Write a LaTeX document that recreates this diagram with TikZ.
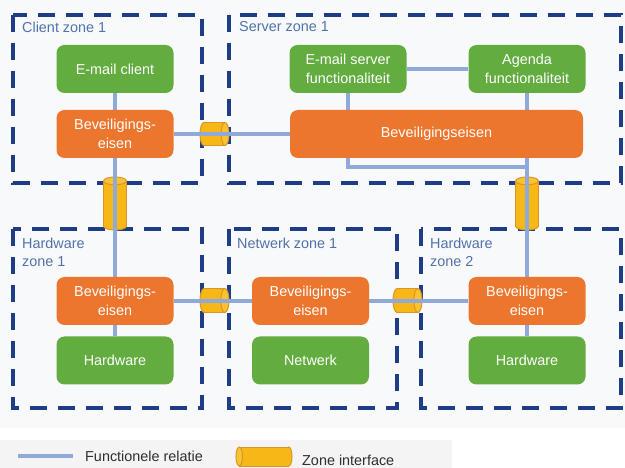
\documentclass[tikz,border=0pt]{standalone}
\usepackage{fontspec}
\setmainfont{Liberation Sans}
\definecolor{zoneblue}{HTML}{1F3D87}
\definecolor{labelblue}{HTML}{5272AA}
\definecolor{linkblue}{HTML}{8FAADA}
\definecolor{boxgreen}{HTML}{62AC40}
\definecolor{boxorange}{HTML}{EC762E}
\definecolor{cylfill}{HTML}{F7B716}
\definecolor{cylcap}{HTML}{F9C230}
\definecolor{cylline}{HTML}{D8962A}
\definecolor{bgmain}{HTML}{F8F9FB}
\definecolor{bglegend}{HTML}{F4F4F4}
\definecolor{legendtext}{HTML}{2E2E2E}
\pgfdeclarelayer{back}
\pgfdeclarelayer{mid}
\pgfsetlayers{back,mid,main}
\newcommand\cylV[4]{%
 \pgfmathsetmacro\cyA{#1-#3/2}\pgfmathsetmacro\cyB{#1+#3/2}%
 \pgfmathsetmacro\cyT{#2-#4/2+#3*0.17}\pgfmathsetmacro\cyD{#2+#4/2-#3*0.17}%
 \pgfmathsetmacro\cyRx{#3/2}\pgfmathsetmacro\cyRy{#3*0.17}%
 \draw[cylout,fill=cylfill] (#1,\cyD) ellipse [x radius=\cyRx, y radius=\cyRy];
 \fill[cylfill] (\cyA,\cyT) rectangle (\cyB,\cyD);
 \draw[cylout] (\cyA,\cyT) -- (\cyA,\cyD) (\cyB,\cyT) -- (\cyB,\cyD);
 \draw[cylout,fill=cylcap] (#1,\cyT) ellipse [x radius=\cyRx, y radius=\cyRy];
}
% horizontal cylinder, visible cap at end #5 (1 = right, -1 = left)
\newcommand\cylH[5]{%
 \pgfmathsetmacro\cyRy{#4/2}\pgfmathsetmacro\cyRx{#4*0.17}%
 \pgfmathsetmacro\cyT{#2-#4/2}\pgfmathsetmacro\cyD{#2+#4/2}%
 \pgfmathsetmacro\cyF{#1-#5*(#3/2-#4*0.17)}\pgfmathsetmacro\cyN{#1+#5*(#3/2-#4*0.17)}%
 \draw[cylout,fill=cylfill] (\cyF,#2) ellipse [x radius=\cyRx, y radius=\cyRy];
 \fill[cylfill] (\cyF,\cyT) rectangle (\cyN,\cyD);
 \draw[cylout] (\cyF,\cyT) -- (\cyN,\cyT) (\cyF,\cyD) -- (\cyN,\cyD);
 \draw[cylout,fill=cylcap] (\cyN,#2) ellipse [x radius=\cyRx, y radius=\cyRy];
}
\tikzset{
 zone/.style={draw=zoneblue, line width=4.2pt, dash pattern=on 17pt off 11pt},
 zonelabel/.style={text=labelblue, font=\fontsize{14.4}{18}\selectfont, align=left, inner sep=0pt},
 box/.style={rounded corners=8pt, minimum width=117pt, minimum height=48pt, text=white,
   font=\fontsize{14.4}{18.5}\selectfont, align=center, inner sep=0pt},
 gbox/.style={box, fill=boxgreen},
 obox/.style={box, fill=boxorange},
 link/.style={draw=linkblue, line width=3.2pt},
 cylout/.style={draw=cylline, line width=1pt},
 legtext/.style={text=legendtext, font=\fontsize{14.4}{18}\selectfont, inner sep=0pt, anchor=west}
}
\begin{document}
\begin{tikzpicture}[x=1pt,y=-1pt]
\useasboundingbox (0,0) rectangle (625,468);

% boxes
\path
 (115,69)  node[gbox] (ec) {E-mail client}
 (115,134) node[obox] (cb) {Beveiligings-\\eisen}
 (348,69)  node[gbox] (es) {E-mail server\\functionaliteit}
 (527,69)  node[gbox] (ag) {Agenda\\functionaliteit}
 (436.5,134) node[obox, minimum width=293pt] (sb) {Beveiligingseisen}
 (115,301) node[obox] (h1b) {Beveiligings-\\eisen}
 (115,360.5) node[gbox] (h1h) {Hardware}
 (310.5,301) node[obox] (nb) {Beveiligings-\\eisen}
 (310.5,360.5) node[gbox] (nn) {Netwerk}
 (527,301) node[obox] (h2b) {Beveiligings-\\eisen}
 (527,360.5) node[gbox] (h2h) {Hardware};

\begin{pgfonlayer}{back}
\fill[bgmain] (0,0) rectangle (625,428);
\fill[white] (0,428) rectangle (625,468);
\fill[bglegend] (0,440) rectangle (452,468);

% zones
\draw[zone] (13,15) rectangle (202,183);
\draw[zone] (229,15) rectangle (621,183);
\draw[zone] (13,229) rectangle (202,408);
\draw[zone] (229,229) rectangle (397,408);
\draw[zone] (421,229) rectangle (621,408);

% zone interfaces
\cylV{115}{203.5}{23}{53}
\cylV{527}{203.5}{23}{53}
\cylH{214.5}{134}{29}{23}{1}
\cylH{214.5}{300.5}{29}{24}{1}
\cylH{407.5}{300.5}{29}{24}{1}
\end{pgfonlayer}

\node[zonelabel, anchor=west] (lz1) at (22,27) {Client zone 1};
\node[zonelabel, anchor=west] (lz2) at (239,27) {Server zone 1};
\node[zonelabel, anchor=west] (lz3) at (22,252) {Hardware\\zone 1};
\node[zonelabel, anchor=west] (lz4) at (237,243) {Netwerk zone 1};
\node[zonelabel, anchor=west] (lz5) at (430,252) {Hardware\\zone 2};

% connectors
\coordinate (br1) at (es.south |- 0,167);
\coordinate (br2) at (ag.south |- 0,167);
\begin{pgfonlayer}{mid}
\draw[link] (ec) -- (cb);
\draw[link] (cb) -- (sb);
\draw[link] (es) -- (ag);
\draw[link] (es.south) -- (br1) -- (br2);
\draw[link] (ag.south) -- (h2b.north);
\draw[link] (cb.south) -- (h1b.north);
\draw[link] (h1b) -- (nb);
\draw[link] (nb) -- (h2b);
\draw[link] (h1b) -- (h1h);
\draw[link] (h2b) -- (h2h);
\end{pgfonlayer}

% legend
\coordinate (lgA) at (18,456);
\coordinate (lgB) at (73,456);
\draw[link] (lgA) -- (lgB);
\node[legtext] (lg1) at (85,456) {Functionele relatie};
\cylH{264}{456.5}{56}{19}{-1}
\node[legtext] (lg2) at (302,460) {Zone interface};
\end{tikzpicture}
\end{document}
